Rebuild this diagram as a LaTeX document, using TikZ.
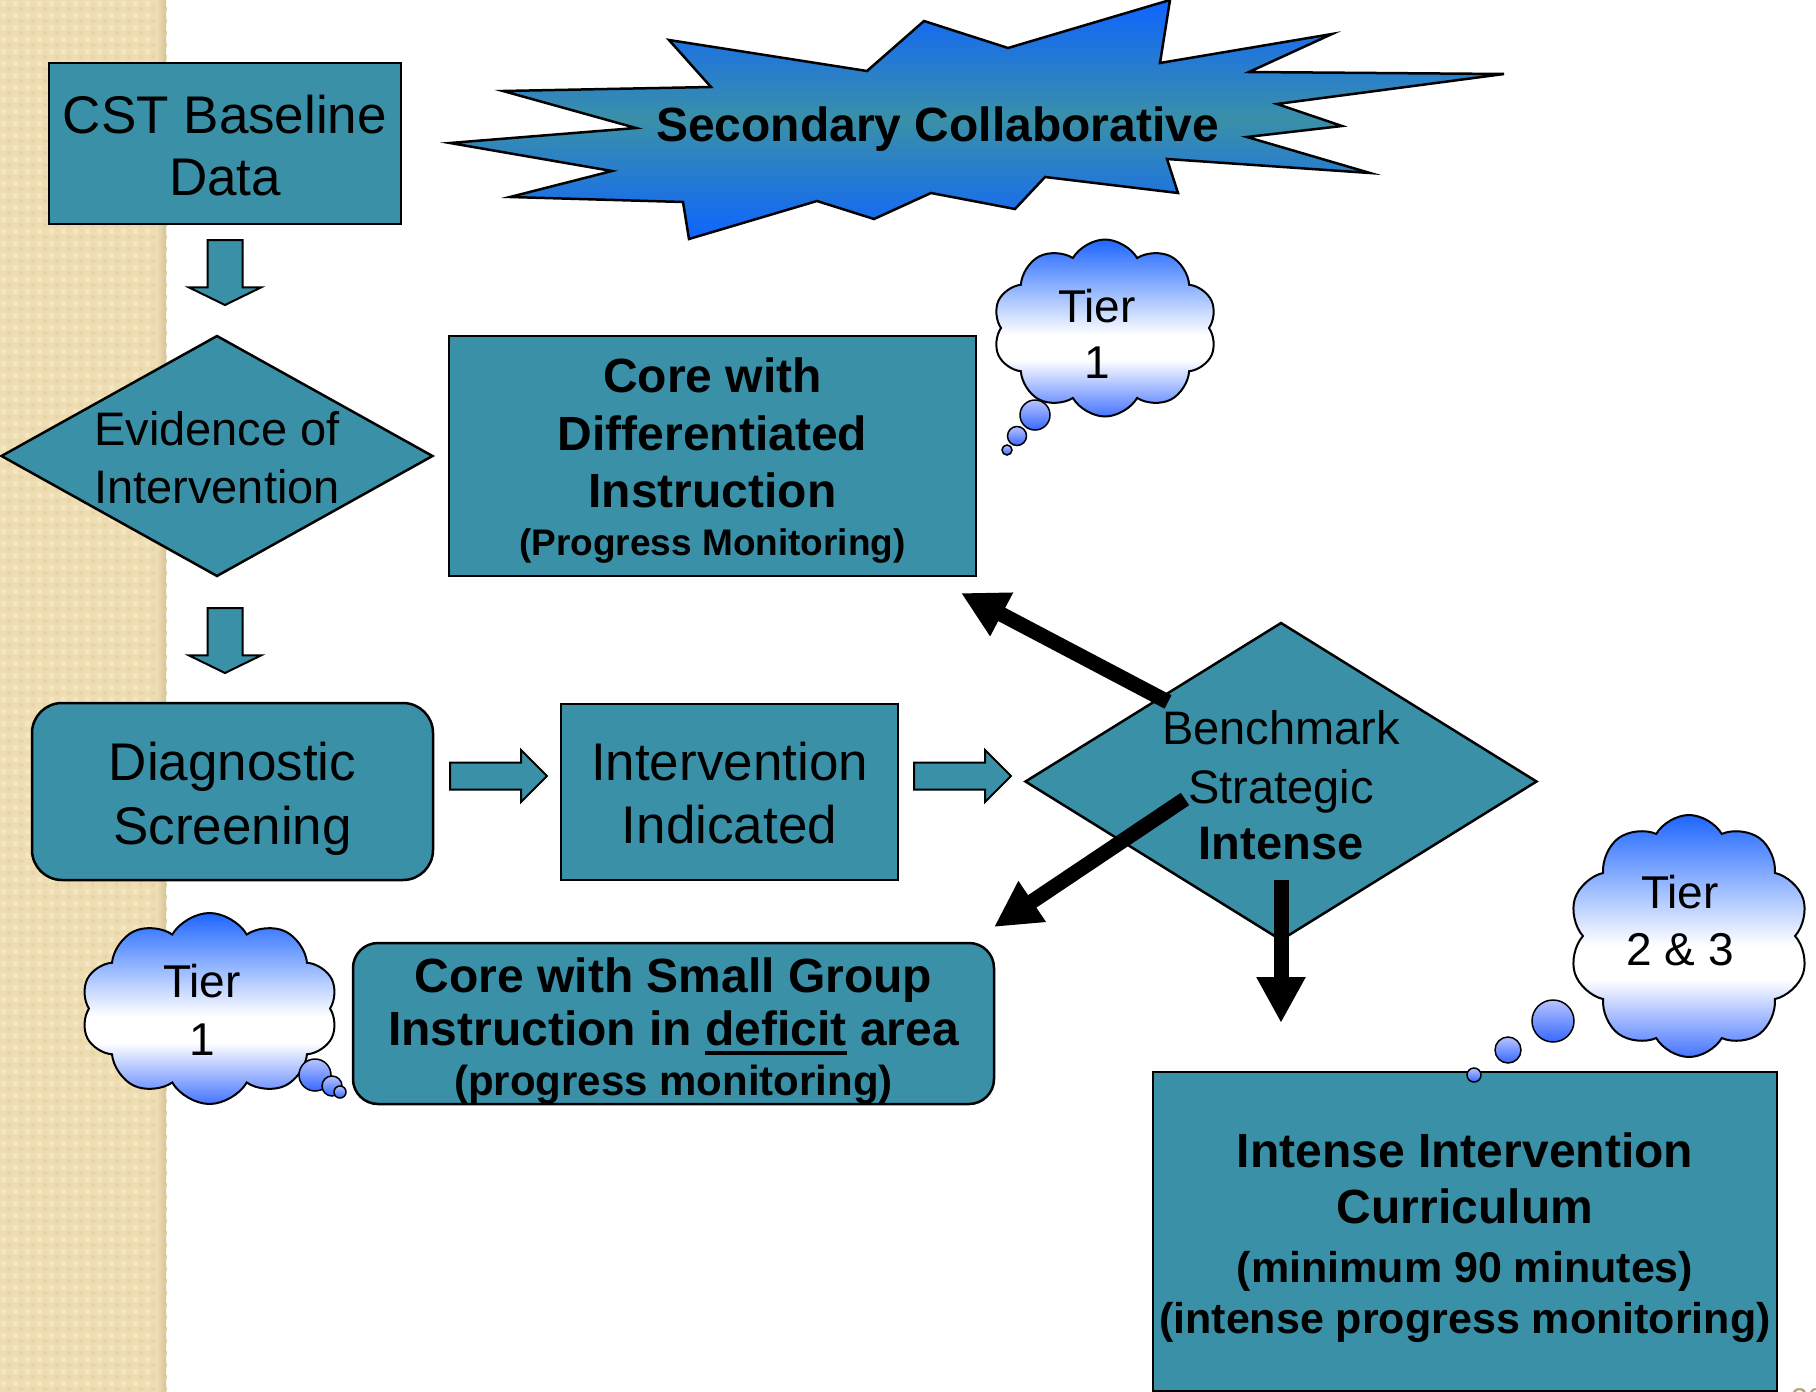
\documentclass[tikz,border=0pt]{standalone}
\usepackage{fontspec}
\setmainfont{Liberation Sans}
\usetikzlibrary{shapes.geometric,shapes.symbols,shapes.arrows,arrows.meta}

\definecolor{tealbox}{HTML}{3A90A7}
\definecolor{stripbase}{HTML}{EEDDB2}
\definecolor{striplight}{HTML}{F3E6C3}
\definecolor{stripdark}{HTML}{E7D5A8}
\definecolor{stripedge}{HTML}{D6C497}
\definecolor{burstblue}{HTML}{0F64FF}
\definecolor{cloudtop}{HTML}{1E66FF}
\definecolor{cloudbot}{HTML}{4674FF}
\definecolor{bubtop}{HTML}{B8C3FF}
\definecolor{bubbot}{HTML}{3569FF}
\definecolor{pagenum}{HTML}{B3A37C}

% shadings: the band 25bp..75bp is stretched over the filled path
\pgfdeclareverticalshading{burstshade}{100bp}{color(0bp)=(burstblue); color(25bp)=(burstblue); color(50bp)=(tealbox); color(75bp)=(burstblue); color(100bp)=(burstblue)}
\pgfdeclareverticalshading{cloudshade}{100bp}{color(0bp)=(cloudbot); color(25bp)=(cloudbot); color(41bp)=(white); color(48bp)=(white); color(75bp)=(cloudtop); color(100bp)=(cloudtop)}
\pgfdeclareverticalshading{bubshade}{100bp}{color(0bp)=(bubbot); color(25bp)=(bubbot); color(75bp)=(bubtop); color(100bp)=(bubtop)}

\newcommand\setfs[2]{\fontsize{#1}{#2}\selectfont}
\newcommand\ulword[1]{\setbox0=\hbox{#1}\rlap{\rule[-10pt]{\wd0}{4.5pt}}\box0\relax}

\tikzset{
  boxbase/.style={draw=black, line width=2.5pt, fill=tealbox, inner sep=0pt, align=center, text depth=0pt},
  rectbox/.style={boxbase, rectangle},
  roundbox/.style={boxbase, rectangle, rounded corners=#1},
  decision/.style={boxbase, diamond},
  thought/.style={cloud, draw=black, line width=2pt, shading=cloudshade, cloud puffs=10, cloud puff arc=120, inner sep=0pt, align=center, text depth=0pt},
  bubble/.style={draw=black, line width=1.5pt, shading=bubshade},
  blockarrow/.style={single arrow, draw=black, line width=2pt, fill=tealbox, inner xsep=0pt, minimum width=0pt, anchor=tail},
  downarrow/.style={blockarrow, rotate=-90, minimum height=65pt, inner ysep=16.5pt, single arrow head extend=18.5pt, single arrow tip angle=128},
  rightarrow/.style={blockarrow, minimum height=97pt, inner ysep=12.5pt, single arrow head extend=12.5pt, single arrow tip angle=90},
  bigarrow/.style={line width=15pt, -{Triangle[length=46pt,width=46pt]}},
}

\begin{document}
\begin{tikzpicture}[x=1pt,y=-1pt]
\useasboundingbox (0,0) rectangle (1816,1392);
\clip (0,0) rectangle (1816,1392);
\fill[white] (0,0) rectangle (1816,1392);

% textured side strip
\fill[stripbase] (0,0) rectangle (166,1392);
\foreach \i in {0,...,13}{
  \foreach \j in {0,...,116}{
    \fill[striplight] (12*\i+1,12*\j+1) rectangle ++(5,5);
    \fill[stripdark] (12*\i+7,12*\j+7) rectangle ++(4,4);
  }
}
\shade[left color=stripbase, right color=stripedge] (157,0) rectangle (166,1392);

% starburst banner
\shadedraw[shading=burstshade, draw=black, line width=2.5pt, line join=miter]
  (1170,0) -- (1160,63) -- (1332,34) -- (1249,72) -- (1504,74) -- (1277,104)
  -- (1342,126) -- (1247,137) -- (1370,173) -- (1167,159) -- (1178,193)
  -- (1045,177) -- (1015,209) -- (931,193) -- (874,219) -- (817,201)
  -- (689,239) -- (683,202) -- (510,197) -- (612,171) -- (450,143)
  -- (636,128) -- (503,91) -- (711,87) -- (669,40) -- (867,71)
  -- (924,21) -- (1008,48) -- cycle;
\node[anchor=base, inner sep=0pt, font=\bfseries\setfs{48}{58}] (burst) at (937.5,141) {Secondary Collaborative};

% flow boxes
\node[rectbox, minimum width=352pt, minimum height=161pt, text height=103pt, font=\setfs{53}{62}]
  (cst) at (225,143.5) {CST Baseline\\Data};
\node[decision, aspect=1.79, minimum width=432pt, minimum height=241pt, text height=94pt, font=\setfs{47}{58}]
  (evid) at (217,456) {Evidence of\\Intervention};
\node[rectbox, minimum width=527pt, minimum height=240pt, text height=198pt, font=\bfseries\setfs{48}{57.5}]
  (coredi) at (712.5,456) {Core with\\Differentiated\\Instruction\\[-10pt]{\setfs{37}{57.5}(Progress Monitoring)}};
\node[roundbox=30pt, minimum width=401pt, minimum height=177pt, text height=105pt, font=\setfs{53}{64}]
  (diag) at (232.5,791.5) {Diagnostic\\Screening};
\node[rectbox, minimum width=337pt, minimum height=176pt, text height=102pt, font=\setfs{53}{63}]
  (indic) at (729.5,792) {Intervention\\Indicated};
\node[decision, aspect=1.625, minimum width=512pt, minimum height=318pt, text height=155pt, font=\setfs{47}{59}]
  (bench) at (1281,781.5) {Benchmark\\Strategic\\[-3pt]\textbf{Intense}};
\node[roundbox=25pt, minimum width=641pt, minimum height=161pt, text height=143pt, font=\bfseries\setfs{48}{53}]
  (coresg) at (673.5,1023.5) {Core with Small Group\\Instruction in \ulword{deficit} area\\[-3pt]{\setfs{42}{53}(progress monitoring)}};
\node[rectbox, minimum width=624pt, minimum height=319pt, text height=203pt, font=\bfseries\setfs{48}{56}]
  (intense) at (1465,1231.5) {Intense Intervention\\Curriculum\\[3pt]{\setfs{43}{56}(minimum 90 minutes)}\\[-5pt]{\setfs{43}{56}(intense progress monitoring)}};

% teal block arrows
\node[downarrow] (dn1) at (225,239) {};
\node[downarrow] (dn2) at (225,607) {};
\node[rightarrow] (rt1) at (449,776) {};
\node[rightarrow] (rt2) at (913,776) {};

% black outcome arrows
\coordinate (upFrom) at (1168,702);
\coordinate (upTo) at (961,593);
\coordinate (leftFrom) at (1185,799);
\coordinate (leftTo) at (994,927);
\coordinate (downFrom) at (1281,880);
\coordinate (downTo) at (1281,1023);
\draw[bigarrow] (upFrom) -- (upTo);
\draw[bigarrow] (leftFrom) -- (leftTo);
\draw[bigarrow] (downFrom) -- (downTo);

% thought clouds
\node[thought, aspect=1.27, minimum width=224pt, minimum height=177pt, text height=100pt, font=\setfs{46}{56}]
  (tierA) at (1105,328) {Tier\hspace*{16pt}\\1\hspace*{16pt}};
\draw[bubble] (1035,415) circle (15);
\draw[bubble] (1017,436) circle (9.5);
\draw[bubble] (1007,450) circle (5);

\node[thought, aspect=1.35, minimum width=257pt, minimum height=191pt, text height=93pt, font=\setfs{46}{58}]
  (tierB) at (209.5,1008.5) {Tier\hspace*{15pt}\\1\hspace*{15pt}};
\draw[bubble] (315,1075) circle (16);
\draw[bubble] (332,1086) circle (10);
\draw[bubble] (340,1092) circle (6);

\node[thought, aspect=1.0, minimum width=240pt, minimum height=242pt, text height=58pt, font=\setfs{46}{57}]
  (tierC) at (1689,936) {Tier\hspace*{18pt}\\2 \& 3\hspace*{18pt}};
\draw[bubble] (1553,1021) circle (21);
\draw[bubble] (1508,1050) circle (13);
\draw[bubble] (1474,1075) circle (7);

% slide number
\node[anchor=north west, inner sep=0pt, text=pagenum, font=\setfs{30}{36}] (pagenr) at (1791,1388) {20};
\end{tikzpicture}
\end{document}
